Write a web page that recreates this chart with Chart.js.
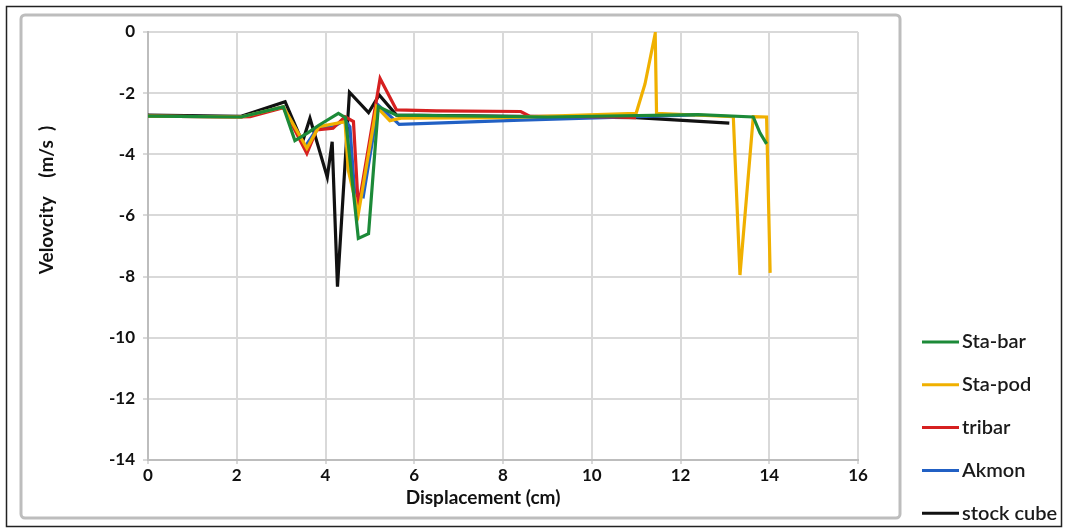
<!DOCTYPE html>
<html>
<head>
<meta charset="utf-8">
<script src="https://cdn.jsdelivr.net/npm/chart.js@4/dist/chart.umd.min.js"></script>
<style>
  html, body { margin: 0; padding: 0; background: #fff; }
  #wrap { width: 1069px; height: 531px; }
</style>
</head>
<body>
<div id="wrap"><canvas id="c" width="1069" height="531"></canvas></div>
<script>
// values
const staBarX = [0, 2.1, 3.05, 3.31, 3.6, 3.85, 4.29, 4.45, 4.74, 4.97, 5.19, 5.6, 9, 12.4, 13.64, 13.79, 13.94]
const staBarY = [-2.75, -2.78, -2.45, -3.55, -3.3, -3.05, -2.66, -2.8, -6.75, -6.6, -2.44, -2.72, -2.78, -2.7, -2.78, -3.3, -3.66]

const staPodX = [0, 2.1, 3.05, 3.58, 3.85, 4.44, 4.51, 4.74, 5.15, 5.45, 5.7, 8, 11.0, 11.2, 11.43, 11.46, 13.19, 13.34, 13.64, 13.94, 14.02]
const staPodY = [-2.75, -2.78, -2.45, -3.8, -3.1, -2.93, -4.5, -5.95, -2.44, -2.9, -2.82, -2.8, -2.66, -1.7, -0.05, -2.66, -2.77, -7.95, -2.77, -2.78, -7.88]

const tribarX = [0, 2.1, 2.3, 3.05, 3.58, 3.8, 4.17, 4.44, 4.63, 4.74, 5.23, 5.6, 6.5, 8.4, 8.6, 10.5, 11.0]
const tribarY = [-2.75, -2.78, -2.77, -2.48, -3.97, -3.2, -3.15, -2.77, -2.93, -5.75, -1.52, -2.55, -2.58, -2.6, -2.75, -2.78, -2.8]

const akmonX = [0, 2.1, 3.05, 3.54, 3.84, 4.18, 4.44, 4.55, 4.66, 4.85, 5.19, 5.66, 8.4, 12.33]
const akmonY = [-2.75, -2.78, -2.45, -3.75, -3.1, -3.1, -2.88, -3.1, -5.33, -5.39, -2.39, -3.02, -2.88, -2.71]

const stockX = [0, 2.1, 3.09, 3.48, 3.65, 4.04, 4.15, 4.27, 4.54, 4.97, 5.21, 5.6, 11.0, 13.1]
const stockY = [-2.72, -2.76, -2.28, -3.6, -2.82, -4.75, -3.59, -8.33, -1.97, -2.64, -2.06, -2.72, -2.8, -2.98]

const seriesNames = ['Sta-bar', 'Sta-pod', 'tribar', 'Akmon', 'stock cube']
const seriesColors = ['#1c8a38', '#f0b000', '#d62020', '#2160c4', '#111111']

const xTitle = 'Displacement (cm)'
const yTitle = 'Velovcity    (m/s  )'

function pts(xs, ys) {
    return xs.map((x, i) => ({ x: x, y: ys[i] }))
}

const allX = [staBarX, staPodX, tribarX, akmonX, stockX]
const allY = [staBarY, staPodY, tribarY, akmonY, stockY]

const datasets = seriesNames.map((name, i) => ({
    label: name,
    data: pts(allX[i], allY[i]),
    borderColor: seriesColors[i],
    backgroundColor: seriesColors[i],
    borderWidth: 3.2,
    pointRadius: 0,
    showLine: true,
    tension: 0,
    fill: false
}))

// frames, titles and the legend the way the picture has them
const decor = {
    id: 'decor',
    beforeDraw(chart) {
        const ctx = chart.ctx
        ctx.save()
        ctx.fillStyle = '#fff'
        ctx.fillRect(0, 0, chart.width, chart.height)
        ctx.restore()
    },
    afterDraw(chart) {
        const ctx = chart.ctx
        ctx.save()
        ctx.strokeStyle = '#222'
        ctx.lineWidth = 1.5
        ctx.strokeRect(6.5, 6.5, 1055, 520)
        ctx.strokeStyle = '#bdbdbd'
        ctx.lineWidth = 3
        ctx.beginPath()
        ctx.roundRect(21, 15, 879, 503, 4)
        ctx.stroke()

        ctx.fillStyle = '#111'
        ctx.font = 'bold 19px Lato'
        ctx.textAlign = 'center'
        ctx.textBaseline = 'middle'
        ctx.fillText(xTitle, 483, 498)
        ctx.translate(47, 200)
        ctx.rotate(-Math.PI / 2)
        ctx.font = 'bold 19px Lato'
        ctx.fillText(yTitle, 0, 0)
        ctx.restore()

        ctx.save()
        ctx.font = '600 20px Lato'
        ctx.textBaseline = 'middle'
        ctx.textAlign = 'left'
        chart.data.datasets.forEach((ds, i) => {
            const y = 342 + i * 42.8
            ctx.strokeStyle = ds.borderColor
            ctx.lineWidth = 3
            ctx.beginPath()
            ctx.moveTo(922, y)
            ctx.lineTo(959, y)
            ctx.stroke()
            ctx.fillStyle = '#1a1a1a'
            ctx.fillText(ds.label, 962, y)
        })
        ctx.restore()
    }
}

new Chart(document.getElementById('c').getContext('2d'), {
    type: 'scatter',
    data: { datasets: datasets },
    options: {
        responsive: false,
        animation: false,
        layout: { padding: { left: 0, top: 32, right: 211, bottom: 0 } },
        plugins: { legend: { display: false }, tooltip: { enabled: false } },
        scales: {
            x: {
                type: 'linear',
                min: 0, max: 16,
                ticks: { stepSize: 2, color: '#111', font: { family: 'Lato', size: 17, weight: 'bold' }, padding: 1 },
                grid: { color: '#d9d9d9', lineWidth: 2, tickLength: 4 },
                border: { color: '#bdbdbd', width: 2 },
                afterFit(scale) { scale.height = 71 }
            },
            y: {
                type: 'linear',
                min: -14, max: 0,
                ticks: { stepSize: 2, color: '#111', font: { family: 'Lato', size: 17, weight: 'bold' }, padding: 8 },
                grid: { color: '#d9d9d9', lineWidth: 2, tickLength: 5 },
                border: { color: '#bdbdbd', width: 2 },
                afterFit(scale) { scale.width = 148 }
            }
        }
    },
    plugins: [decor]
})
</script>
</body>
</html>
